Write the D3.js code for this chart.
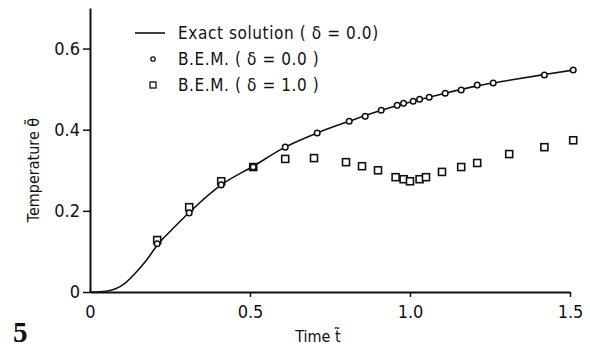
<!DOCTYPE html>
<html>
<head>
<meta charset="utf-8">
<script src="https://cdn.jsdelivr.net/npm/d3@7.9.0/dist/d3.min.js"></script>
<style>
  body { margin: 0; background: #fff; }
  svg { display: block; }
  text { font-family: "Liberation Sans Narrow", "DejaVu Sans Condensed", "Liberation Sans", sans-serif; fill: #111; }
</style>
</head>
<body>
<div id="chart"></div>
<script>
const width = 590;
const height = 349;

// exact solution (delta = 0.0)
const exactT = [0, 0.05, 0.08, 0.11, 0.14, 0.175, 0.21, 0.26, 0.31, 0.41, 0.51, 0.61, 0.71, 0.81, 0.91, 1.01, 1.11, 1.21, 1.31, 1.42, 1.51];
const exactV = [0, 0.002, 0.008, 0.022, 0.045, 0.077, 0.115, 0.157, 0.196, 0.264, 0.31, 0.357, 0.392, 0.421, 0.448, 0.47, 0.49, 0.508, 0.522, 0.536, 0.547];

// B.E.M. (delta = 0.0) circles
const bem0T = [0.21, 0.31, 0.41, 0.51, 0.61, 0.71, 0.81, 0.86, 0.91, 0.96, 0.98, 1.01, 1.03, 1.06, 1.11, 1.16, 1.21, 1.26, 1.42, 1.51];
const bem0V = [0.119, 0.195, 0.264, 0.308, 0.357, 0.392, 0.421, 0.433, 0.448, 0.46, 0.465, 0.47, 0.475, 0.48, 0.49, 0.498, 0.51, 0.515, 0.535, 0.547];

// B.E.M. (delta = 1.0) squares
const bem1T = [0.21, 0.31, 0.41, 0.51, 0.61, 0.70, 0.80, 0.85, 0.90, 0.955, 0.98, 1.0, 1.03, 1.05, 1.10, 1.16, 1.21, 1.31, 1.42, 1.51];
const bem1V = [0.128, 0.209, 0.273, 0.308, 0.328, 0.33, 0.32, 0.31, 0.30, 0.283, 0.278, 0.273, 0.278, 0.283, 0.296, 0.308, 0.318, 0.34, 0.357, 0.374];

const xTicks = [0, 0.5, 1.0, 1.5];
const xTickLabels = ["0", "0.5", "1.0", "1.5"];
const yTicks = [0, 0.2, 0.4, 0.6];
const yTickLabels = ["0", "0.2", "0.4", "0.6"];

const legendLabels = ["Exact solution ( \u03b4 = 0.0)", "B.E.M. ( \u03b4 = 0.0 )", "B.E.M. ( \u03b4 = 1.0 )"];

const svg = d3.select("#chart")
  .append("svg")
  .attr("width", width)
  .attr("height", height)
  .attr("viewBox", `0 0 ${width} ${height}`);

const xScale = d3.scaleLinear().domain([0, 1.5]).range([90, 570]);
const yScale = d3.scaleLinear().domain([0, 0.7]).range([292, 8]);

// axes
const xAxis = svg.append("g")
  .attr("transform", `translate(0, ${yScale(0)})`)
  .call(d3.axisBottom(xScale)
    .tickValues(xTicks)
    .tickFormat((d, i) => xTickLabels[i])
    .tickSize(5)
    .tickSizeOuter(0)
    .tickPadding(8));

const yAxis = svg.append("g")
  .attr("transform", `translate(${xScale(0)}, 0)`)
  .call(d3.axisLeft(yScale)
    .tickValues(yTicks)
    .tickFormat((d, i) => yTickLabels[i])
    .tickSize(7)
    .tickSizeOuter(0)
    .tickPadding(3));

svg.selectAll(".domain").attr("stroke", "#111").attr("stroke-width", 2);
svg.selectAll(".tick line").attr("stroke", "#111").attr("stroke-width", 1.5);
svg.selectAll(".tick text").style("font-size", "18px").attr("fill", "#111");
xAxis.select(".tick line").remove();

// axis titles
svg.append("text")
  .attr("x", 318)
  .attr("y", 342)
  .attr("text-anchor", "middle")
  .style("font-size", "16px")
  .text("Time t\u0303");

svg.append("text")
  .attr("transform", "rotate(-90)")
  .attr("x", -170)
  .attr("y", 39)
  .attr("text-anchor", "middle")
  .style("font-size", "16px")
  .text("Temperature \u03b8\u0303");

// figure number
svg.append("text")
  .attr("x", 13)
  .attr("y", 342)
  .style("font-family", "'Liberation Serif', 'DejaVu Serif', serif")
  .style("font-weight", "bold")
  .style("font-size", "29px")
  .text("5");

// exact solution curve
const line = d3.line()
  .curve(d3.curveMonotoneX)
  .x(d => xScale(d[0]))
  .y(d => yScale(d[1]));

svg.append("path")
  .datum(d3.zip(exactT, exactV))
  .attr("d", line)
  .attr("fill", "none")
  .attr("stroke", "#111")
  .attr("stroke-width", 1.6);

// squares
svg.append("g")
  .selectAll("rect")
  .data(d3.zip(bem1T, bem1V))
  .join("rect")
  .attr("x", d => xScale(d[0]) - 3.5)
  .attr("y", d => yScale(d[1]) - 3.5)
  .attr("width", 7)
  .attr("height", 7)
  .attr("fill", "#fff")
  .attr("stroke", "#111")
  .attr("stroke-width", 1.6);

// circles
svg.append("g")
  .selectAll("circle")
  .data(d3.zip(bem0T, bem0V))
  .join("circle")
  .attr("cx", d => xScale(d[0]))
  .attr("cy", d => yScale(d[1]))
  .attr("r", 2.8)
  .attr("fill", "#fff")
  .attr("stroke", "#111")
  .attr("stroke-width", 1.5);

// legend
const legend = svg.append("g");
const rowY = [33, 59, 85];

legend.append("line")
  .attr("x1", 135).attr("x2", 165)
  .attr("y1", rowY[0]).attr("y2", rowY[0])
  .attr("stroke", "#111").attr("stroke-width", 1.6);

legend.append("circle")
  .attr("cx", 153).attr("cy", rowY[1])
  .attr("r", 2.2)
  .attr("fill", "#fff").attr("stroke", "#111").attr("stroke-width", 1.3);

legend.append("rect")
  .attr("x", 150).attr("y", rowY[2] - 3)
  .attr("width", 6).attr("height", 6)
  .attr("fill", "#fff").attr("stroke", "#111").attr("stroke-width", 1.3);

legend.selectAll("text")
  .data(legendLabels)
  .join("text")
  .attr("x", 178)
  .attr("y", (d, i) => rowY[i] + 6)
  .style("font-size", "17px")
  .style("letter-spacing", "0.6px")
  .text(d => d);
</script>
</body>
</html>
